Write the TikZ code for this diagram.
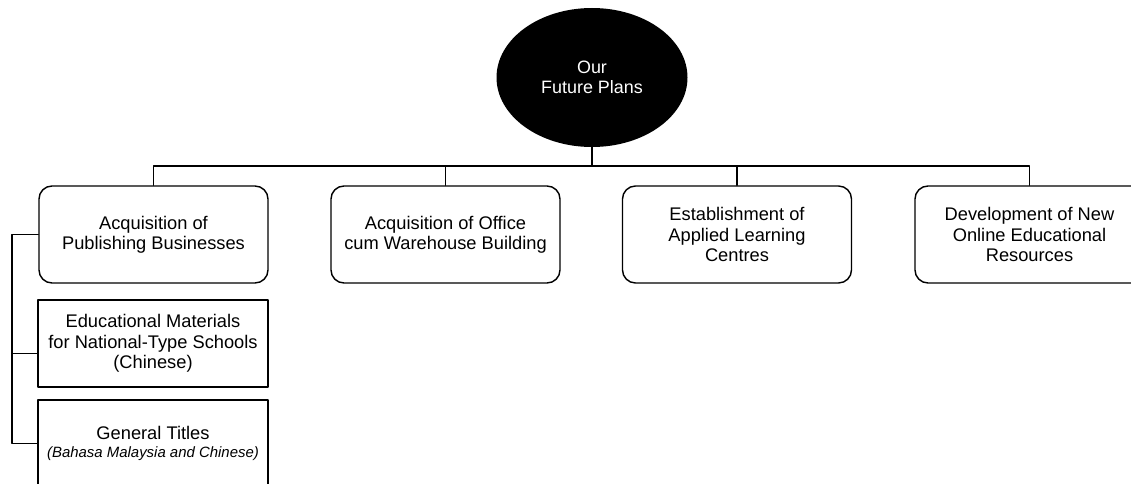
\documentclass[tikz,border=0pt]{standalone}
\usepackage{fontspec}
\setmainfont{Liberation Sans}
\usetikzlibrary{shapes.geometric}

\begin{document}
\begin{tikzpicture}[
    line cap=round, line join=round,
    conn/.style={line width=0.8pt, black},
    plan/.style={draw=black, line width=0.8pt, rounded corners=0.26cm,
      minimum width=4.58cm, minimum height=1.94cm, align=center,
      font=\fontsize{10.4}{11.6}\selectfont},
    sub/.style={draw=black, line width=0.8pt,
      minimum width=4.6cm, minimum height=1.74cm, align=center,
      font=\fontsize{10.4}{11.6}\selectfont},
  ]
  \useasboundingbox (0,0) rectangle (22.62,9.66);
  \clip (0,0) rectangle (22.62,9.66);

  % --- root ---
  \node[ellipse, fill=black, inner sep=0pt, minimum width=3.82cm,
        minimum height=2.78cm, text=white, align=center,
        font=\fontsize{10.2}{11.6}\selectfont]
       (plans) at (11.84,8.11) {Our\\Future Plans};

  % --- the four plans ---
  \node[plan] (pub) at (3.07,4.97)  {Acquisition of\\Publishing Businesses};
  \node[plan] (off) at (8.91,4.97)  {Acquisition of Office\\cum Warehouse Building};
  \node[plan] (est) at (14.74,4.97) {Establishment of\\Applied Learning\\Centres};
  \node[plan] (dev) at (20.59,4.97) {Development of New\\Online Educational\\Resources};

  % --- publishing sub-items ---
  \node[sub] (edu) at (3.06,2.79)
    {Educational Materials\\for National-Type Schools\\(Chinese)};
  \node[sub] (gen) at (3.06,0.79)
    {General Titles\\[-1pt]{\fontsize{8.5}{9.5}\selectfont\itshape (Bahasa Malaysia and Chinese)}};

  % --- tree connectors ---
  \coordinate (bus) at (0,6.34);
  \coordinate (rail) at (0.24,0);
  \draw[conn] (plans.south) -- (plans.south |- bus);
  \draw[conn] (pub.north) |- (dev.north |- bus) -- (dev.north);
  \draw[conn] (off.north) -- (off.north |- bus);
  \draw[conn] (est.north) -- (est.north |- bus);

  % --- bracket to sub-items ---
  \draw[conn] (pub.west) -- (pub.west -| rail) |- (gen.west);
  \draw[conn] ([yshift=-0.2cm]edu.west) -- ([yshift=-0.2cm]edu.west -| rail);
\end{tikzpicture}
\end{document}
